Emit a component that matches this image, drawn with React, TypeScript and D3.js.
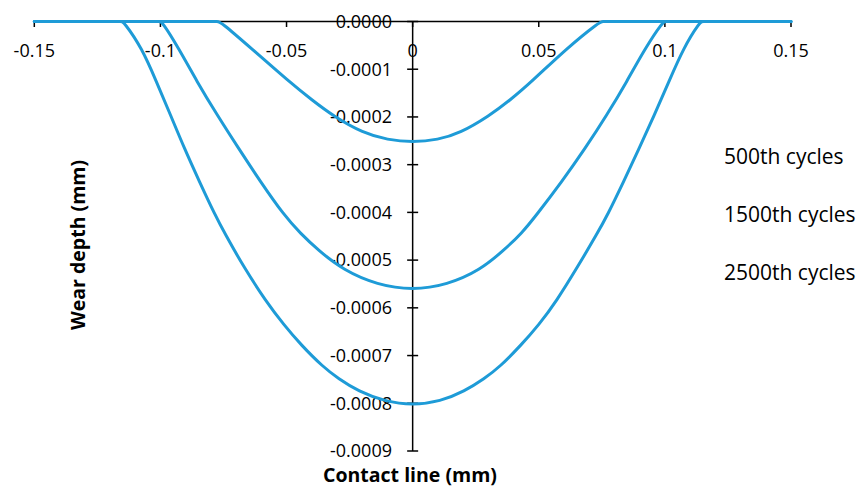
import React from "react";
import * as d3 from "d3";

const W = 858;
const H = 491;

const xTicks = [-0.15, -0.1, -0.05, 0, 0.05, 0.1, 0.15];
const xTickLabels = ["-0.15", "-0.1", "-0.05", "0", "0.05", "0.1", "0.15"];
const yTicks = [0, -0.0001, -0.0002, -0.0003, -0.0004, -0.0005, -0.0006, -0.0007, -0.0008, -0.0009];
const yTickLabels = ["0.0000", "-0.0001", "-0.0002", "-0.0003", "-0.0004", "-0.0005", "-0.0006", "-0.0007", "-0.0008", "-0.0009"];

const seriesNames = ["500th cycles", "1500th cycles", "2500th cycles"];

// 500th cycles
const x500 = [-0.15, -0.084, -0.0805, -0.0773, -0.0763, -0.064, -0.049, -0.0398, -0.0315, -0.0196, -0.01, 0, 0.01, 0.0188, 0.0303, 0.0386, 0.0472, 0.0611, 0.0743, 0.0753, 0.0785, 0.082, 0.15];
const y500 = [0, 0, 0, 0, 0, -0.000056, -0.000126, -0.000165, -0.000198, -0.000234, -0.000248, -0.000253, -0.000248, -0.000234, -0.000198, -0.000165, -0.000126, -0.000056, 0, 0, 0, 0, 0];

// 1500th cycles
const x1500 = [-0.15, -0.107, -0.1035, -0.1004, -0.0994, -0.0928, -0.0855, -0.0775, -0.069, -0.0603, -0.051, -0.0445, -0.0375, -0.0275, -0.014, 0, 0.0136, 0.0268, 0.0362, 0.0432, 0.049, 0.0591, 0.0684, 0.077, 0.0849, 0.0922, 0.0993, 0.1003, 0.1035, 0.107, 0.15];
const y1500 = [0, 0, 0, 0, 0, -0.000056, -0.000126, -0.000196, -0.000266, -0.000336, -0.000406, -0.000444, -0.000479, -0.000521, -0.000552, -0.000563, -0.000552, -0.000521, -0.000479, -0.000444, -0.000406, -0.000336, -0.000266, -0.000196, -0.000126, -0.000056, 0, 0, 0, 0, 0];

// 2500th cycles
const x2500 = [-0.15, -0.1225, -0.119, -0.1156, -0.1146, -0.1073, -0.1016, -0.096, -0.0905, -0.0845, -0.0783, -0.0745, -0.0668, -0.0582, -0.051, -0.0442, -0.0355, -0.0295, -0.0215, -0.011, 0, 0.011, 0.0205, 0.0285, 0.0345, 0.043, 0.05, 0.057, 0.0652, 0.0732, 0.0772, 0.0836, 0.0898, 0.0958, 0.1016, 0.1073, 0.114, 0.115, 0.1185, 0.122, 0.15];
const y2500 = [0, 0, 0, 0, 0, -0.000056, -0.000126, -0.000196, -0.000266, -0.000336, -0.000406, -0.000444, -0.000516, -0.000586, -0.000636, -0.000678, -0.000724, -0.000748, -0.000775, -0.000796, -0.000804, -0.000796, -0.000775, -0.000748, -0.000724, -0.000678, -0.000636, -0.000586, -0.000516, -0.000444, -0.000406, -0.000336, -0.000266, -0.000196, -0.000126, -0.000056, 0, 0, 0, 0, 0];

const seriesX = [x500, x1500, x2500];
const seriesY = [y500, y1500, y2500];

const FONT = "'Open Sans', sans-serif";
const BLUE = "#1E9BD7";

export default function App() {
  const x = d3.scaleLinear().domain([-0.15, 0.15]).range([34.3, 791]);
  const y = d3.scaleLinear().domain([0, -0.0009]).range([21.5, 451]);
  const line = d3
    .line<[number, number]>()
    .x((d) => x(d[0]))
    .y((d) => y(d[1]))
    .curve(d3.curveBasis);

  const x0 = x(0);
  const y0 = y(0);

  return (
    <svg
      width={W}
      height={H}
      style={{ position: "absolute", left: 0, top: 0, background: "#fff" }}
      fontFamily={FONT}
    >
      <rect width={W} height={H} fill="#fff" />
      <line x1={x(-0.15)} x2={x(0.15)} y1={y0} y2={y0} stroke="#000" strokeWidth={1.5} />
      {xTicks.map((t, i) => (
        <line key={"xt" + i} x1={x(t)} x2={x(t)} y1={y0} y2={y0 + 5.5} stroke="#000" strokeWidth={1.5} />
      ))}
      <line x1={x0} x2={x0} y1={y0} y2={y(-0.0009)} stroke="#000" strokeWidth={1.5} />
      {yTicks.map((t, i) => (
        <line key={"yt" + i} x1={x0 - 5.5} x2={x0 + 5.5} y1={y(t)} y2={y(t)} stroke="#000" strokeWidth={1.5} />
      ))}
      {xTicks.map((t, i) => (
        <text key={"xl" + i} x={x(t)} y={56.5} textAnchor="middle" fontSize={18} fill="#000">
          {xTickLabels[i]}
        </text>
      ))}
      {yTicks.map((t, i) => (
        <text key={"yl" + i} x={392} y={y(t)} dy="0.35em" textAnchor="end" fontSize={18} fill="#000">
          {yTickLabels[i]}
        </text>
      ))}
      {seriesX.map((xs, si) => (
        <path
          key={"s" + si}
          d={line(xs.map((v, j) => [v, seriesY[si][j]] as [number, number])) || ""}
          fill="none"
          stroke={BLUE}
          strokeWidth={3}
          strokeLinejoin="round"
          strokeLinecap="round"
        />
      ))}
      {seriesNames.map((n, i) => (
        <text key={"lg" + i} x={724} y={157 + i * 58} dy="0.35em" fontSize={21} fill="#000">
          {n}
        </text>
      ))}
      <text x={410} y={482} textAnchor="middle" fontSize={19.5} fontWeight="bold" fill="#000">
        Contact line (mm)
      </text>
      <text
        transform={`translate(85, 245) rotate(-90)`}
        textAnchor="middle"
        fontSize={19.5}
        fontWeight="bold"
        fill="#000"
      >
        Wear depth (mm)
      </text>
    </svg>
  );
}
